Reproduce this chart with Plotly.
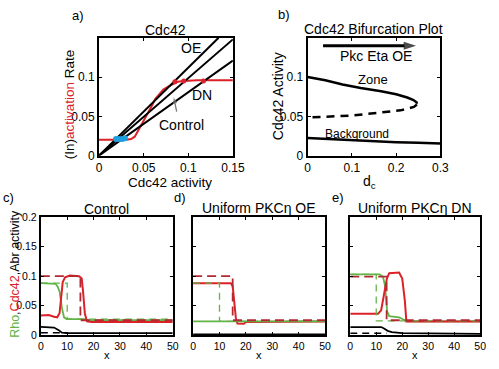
import plotly.graph_objects as go

W, H = 499, 369
RED = "#dc2128"
RED_D = "#b02a34"
GREEN = "#62b446"
BLUE = "#1e9fe0"
FONT = "Liberation Sans, Arial, sans-serif"

# ---------------- Panel a data ----------------
lin_x_oe = [0, 0.134]
lin_y_oe = [0, 0.15]
lin_x_ctrl = [0, 0.15]
lin_y_ctrl = [0, 0.148]
lin_x_dn = [0, 0.15]
lin_y_dn = [0, 0.121]
act_x = [0, 0.030, 0.036, 0.040, 0.043, 0.047, 0.050, 0.053, 0.056, 0.060, 0.063, 0.067, 0.072, 0.078, 0.083, 0.088, 0.095, 0.11, 0.15]
act_y = [0.020, 0.020, 0.021, 0.024, 0.030, 0.038, 0.045, 0.050, 0.056, 0.065, 0.072, 0.078, 0.084, 0.088, 0.091, 0.094, 0.095, 0.096, 0.096]
red_pts_x = [0.085, 0.095, 0.117]
red_pts_y = [0.094, 0.095, 0.095]
blue_pts_x = [0.019, 0.022, 0.026, 0.029]
blue_pts_y = [0.021, 0.021, 0.021, 0.022]
ctrl_arrow_x = [0.087, 0.0837]
ctrl_arrow_y = [0.056, 0.0746]

# ---------------- Panel b data ----------------
zone_x = [0, 0.04, 0.079, 0.12, 0.166, 0.20, 0.225, 0.238, 0.246, 0.247]
zone_y = [0.100, 0.096, 0.0905, 0.086, 0.082, 0.078, 0.074, 0.071, 0.068, 0.066]
unst_x = [0.247, 0.240, 0.21, 0.17, 0.137, 0.10, 0.064, 0.03, 0]
unst_y = [0.065, 0.062, 0.0576, 0.055, 0.0527, 0.051, 0.0500, 0.049, 0.0485]
bg_x = [0, 0.05, 0.1, 0.15, 0.2, 0.25, 0.3]
bg_y = [0.0225, 0.021, 0.0195, 0.0185, 0.017, 0.0162, 0.0155]
pkc_arrow_x = [0.035, 0.245]
pkc_arrow_y = [0.14, 0.14]

# ---------------- Panel c data (Control) ----------------
c_rho_x = [0, 4, 5.6, 6.4, 7.1, 8.0, 8.8, 9.8, 11, 16.5, 17.5, 50]
c_rho_y = [0.088, 0.088, 0.087, 0.082, 0.074, 0.046, 0.030, 0.027, 0.027, 0.027, 0.025, 0.025]
c_cdc_x = [0, 3, 5, 6.2, 7.1, 7.7, 8.3, 9.2, 11, 14.5, 15.5, 16.0, 16.7, 17.5, 19.3, 50]
c_cdc_y = [0.033, 0.034, 0.031, 0.030, 0.037, 0.063, 0.090, 0.098, 0.101, 0.100, 0.096, 0.074, 0.036, 0.023, 0.022, 0.022]
c_abr_x = [0, 5, 6.8, 8.0, 9.8, 50]
c_abr_y = [0.0137, 0.0126, 0.0082, 0.0040, 0.0030, 0.0030]
c_cdc0_x = [0, 15, 15, 50]
c_cdc0_y = [0.1, 0.1, 0.025, 0.025]
c_rho0_x = [0, 10, 10, 50]
c_rho0_y = [0.088, 0.088, 0.027, 0.027]
c_abr0_x = [0, 10]
c_abr0_y = [0.004, 0.004]

# ---------------- Panel d data (Uniform PKC OE) ----------------
d_rho_x = [0, 15, 16, 20, 50]
d_rho_y = [0.023, 0.023, 0.024, 0.024, 0.023]
d_cdc_x = [0, 14.3, 15.0, 15.6, 16.2, 16.8, 19.2, 20.1, 50]
d_cdc_y = [0.088, 0.088, 0.083, 0.056, 0.029, 0.0195, 0.019, 0.022, 0.023]
d_abr_x = [0, 50]
d_abr_y = [0.0012, 0.0012]
d_cdc0_x = [0, 15, 15, 50]
d_cdc0_y = [0.1, 0.1, 0.025, 0.025]
d_rho0_x = [0, 10, 10, 50]
d_rho0_y = [0.088, 0.088, 0.023, 0.023]

# ---------------- Panel e data (Uniform PKC DN) ----------------
e_rho_x = [0, 11.3, 12.6, 13.4, 14.2, 15.0, 18.8, 20.6, 21.9, 50]
e_rho_y = [0.103, 0.103, 0.099, 0.083, 0.040, 0.032, 0.030, 0.026, 0.023, 0.023]
e_cdc_x = [0, 10.7, 11.9, 13.2, 14.1, 15.0, 18.8, 20.0, 21.0, 21.6, 50]
e_cdc_y = [0.036, 0.036, 0.042, 0.075, 0.096, 0.105, 0.106, 0.096, 0.0585, 0.023, 0.023]
e_abr_x = [0, 11.9, 13.0, 14.4, 16, 20, 50]
e_abr_y = [0.0135, 0.0135, 0.011, 0.007, 0.005, 0.003, 0.002]
e_cdc0_x = [0, 14, 14, 50]
e_cdc0_y = [0.099, 0.099, 0.025, 0.025]
e_rho0_x = [0, 10, 10, 50]
e_rho0_y = [0.103, 0.103, 0.024, 0.024]
e_abr0_x = [0, 14]
e_abr0_y = [0.003, 0.003]

fig = go.Figure()

def line(x, y, ax, color, width=2, dash="solid"):
    fig.add_trace(go.Scatter(x=x, y=y, mode="lines", xaxis="x" + ax, yaxis="y" + ax,
                             line=dict(color=color, width=width, dash=dash),
                             showlegend=False, hoverinfo="skip"))

def arrow(x, y, ax, color, width, head):
    fig.add_trace(go.Scatter(x=x, y=y, mode="lines+markers", xaxis="x" + ax, yaxis="y" + ax,
                             line=dict(color=color, width=width),
                             marker=dict(symbol="arrow", size=[0, head], angleref="previous",
                                         color=color, line=dict(width=0)),
                             showlegend=False, hoverinfo="skip"))

# panel a
line(act_x, act_y, "", RED, 2)
line(lin_x_oe, lin_y_oe, "", "black", 2)
line(lin_x_ctrl, lin_y_ctrl, "", "black", 2)
line(lin_x_dn, lin_y_dn, "", "black", 2)
fig.add_trace(go.Scatter(x=red_pts_x, y=red_pts_y, mode="markers", xaxis="x", yaxis="y",
                         marker=dict(color=RED, size=5), showlegend=False, hoverinfo="skip"))
fig.add_trace(go.Scatter(x=blue_pts_x, y=blue_pts_y, mode="markers", xaxis="x", yaxis="y",
                         marker=dict(color=BLUE, size=6), showlegend=False, hoverinfo="skip"))
arrow(ctrl_arrow_x, ctrl_arrow_y, "", "#777777", 1.3, 7)

# panel b
line(zone_x, zone_y, "2", "black", 2.5)
line(unst_x, unst_y, "2", "black", 2.5, "8px,6px")
line(bg_x, bg_y, "2", "black", 2.5)
arrow(pkc_arrow_x, pkc_arrow_y, "2", "black", 3, 13)

# panel c
line(c_rho_x, c_rho_y, "3", GREEN, 1.8)
line(c_cdc_x, c_cdc_y, "3", RED, 2)
line(c_abr_x, c_abr_y, "3", "black", 1.8)
line(c_rho0_x, c_rho0_y, "3", GREEN, 1.3, "7px,5px")
line(c_cdc0_x, c_cdc0_y, "3", RED_D, 1.8, "9px,5px")
line(c_abr0_x, c_abr0_y, "3", "black", 1.5, "7px,5px")

# panel d
line(d_abr_x, d_abr_y, "4", "black", 1.8)
line(d_cdc_x, d_cdc_y, "4", RED, 2)
line(d_rho_x, d_rho_y, "4", GREEN, 1.8)
line(d_rho0_x, d_rho0_y, "4", GREEN, 1.3, "7px,5px")
line(d_cdc0_x, d_cdc0_y, "4", RED_D, 1.8, "9px,5px")

# panel e
line(e_rho_x, e_rho_y, "5", GREEN, 1.8)
line(e_cdc_x, e_cdc_y, "5", RED, 2)
line(e_abr_x, e_abr_y, "5", "black", 1.8)
line(e_rho0_x, e_rho0_y, "5", GREEN, 1.3, "7px,5px")
line(e_cdc0_x, e_cdc0_y, "5", RED_D, 1.8, "9px,5px")
line(e_abr0_x, e_abr0_y, "5", "black", 1.5, "7px,5px")

def px_x(p):
    return p / W

def px_y(p):
    return 1 - p / H

def axis(dom, rng, tickvals, ticktext, size, labels=True, anchor=None):
    d = dict(domain=dom, range=rng, tickvals=tickvals, ticktext=ticktext,
             showline=True, linecolor="black", linewidth=2, mirror="ticks",
             ticks="inside", ticklen=3, tickwidth=1, tickcolor="black",
             showgrid=False, zeroline=False, showticklabels=labels,
             tickfont=dict(family=FONT, size=size, color="black"), fixedrange=True)
    if anchor:
        d["anchor"] = anchor
    return d

A = dict(x=[99, 237], y=[33, 155])
B = dict(x=[314, 451], y=[33, 155])
C = dict(x=[39, 175], y=[219, 341])
D = dict(x=[196, 332], y=[219, 341])
E = dict(x=[358, 492], y=[219, 341])

def dx(P):
    return [px_x(P["x"][0]), px_x(P["x"][1])]

def dy(P):
    return [px_y(P["y"][1]), px_y(P["y"][0])]

xt_c = [0, 10, 20, 30, 40, 50]
yt_c = [0, 0.05, 0.1, 0.15, 0.2]
yt_c_txt = ["0", "0.05", "0.1", "0.15", "0.2"]

fig.update_layout(
    width=W, height=H, margin=dict(l=0, r=0, t=0, b=0),
    paper_bgcolor="white", plot_bgcolor="white",
    font=dict(family=FONT, color="black"),
    xaxis=axis(dx(A), [0, 0.15], [0, 0.05, 0.1, 0.15], ["0", "0.05", "0.1", "0.15"], 12, anchor="y"),
    yaxis=axis(dy(A), [0, 0.15], [0, 0.05, 0.1], ["0", "0.05", "0.1"], 12, anchor="x"),
    xaxis2=axis(dx(B), [0, 0.3], [0, 0.1, 0.2, 0.3], ["0", "0.1", "0.2", "0.3"], 12, anchor="y2"),
    yaxis2=axis(dy(B), [0, 0.15], [0, 0.05, 0.1], ["0", "0.05", "0.1"], 12, anchor="x2"),
    xaxis3=axis(dx(C), [0, 50], xt_c, [str(v) for v in xt_c], 10.5, anchor="y3"),
    yaxis3=axis(dy(C), [0, 0.2], yt_c, yt_c_txt, 10.5, anchor="x3"),
    xaxis4=axis(dx(D), [0, 50], xt_c, [str(v) for v in xt_c], 10.5, anchor="y4"),
    yaxis4=axis(dy(D), [0, 0.2], yt_c, yt_c_txt, 10.5, labels=False, anchor="x4"),
    xaxis5=axis(dx(E), [0, 50], xt_c, [str(v) for v in xt_c], 10.5, anchor="y5"),
    yaxis5=axis(dy(E), [0, 0.2], yt_c, yt_c_txt, 10.5, labels=False, anchor="x5"),
)

def ptext(text, x, y, size=13, angle=0, xanchor="center"):
    fig.add_annotation(text=text, x=px_x(x), y=px_y(y), xref="paper", yref="paper",
                       showarrow=False, textangle=angle, xanchor=xanchor, yanchor="middle",
                       font=dict(family=FONT, size=size, color="black"))

def dtext(text, x, y, ax, size=13):
    fig.add_annotation(text=text, x=x, y=y, xref="x" + ax, yref="y" + ax,
                       showarrow=False, font=dict(family=FONT, size=size, color="black"))

# panel letters & titles
ptext("a)", 77, 10, 13)
ptext("b)", 290, 9, 13)
ptext("c)", 6, 198, 13)
ptext("d)", 183, 198, 13)
ptext("e)", 345, 198, 13)
ptext("Cdc42", 168, 25, 14)
ptext("Cdc42 Bifurcation Plot", 382, 24, 14)
ptext("Control", 107, 210, 14)
ptext("Uniform PKCη OE", 264, 209, 14)
ptext("Uniform PKCη DN", 425, 209, 14)

# axis titles
ptext("Cdc42 activity", 172, 183, 13.5)
ptext("d<sub>c</sub>", 378, 182, 14)
ptext("x", 107, 362, 11)
ptext("x", 264, 362, 11)
ptext("x", 425, 362, 11)
ptext("(In)<span style='color:%s'>activation</span> Rate" % RED, 68, 102, 13.5, -90)
ptext("Cdc42 Activity", 283, 93, 14, -90)
ptext("<span style='color:%s'>Rho</span>,<span style='color:%s'>Cdc42</span>,Abr activity" % (GREEN, RED),
      13, 278, 12.5, -90)

# panel a labels
dtext("OE", 0.103, 0.137, "", 14)
dtext("DN", 0.115, 0.077, "", 14)
dtext("Control", 0.092, 0.039, "", 14)

# panel b labels
dtext("Pkc Eta OE", 0.155, 0.127, "2", 14)
dtext("Zone", 0.148, 0.097, "2", 13)
dtext("Background", 0.112, 0.027, "2", 12)

fig.write_html("out.html", config={"displayModeBar": False},
               post_script="document.body.style.margin='0';document.body.style.padding='0';"
                           "document.body.style.overflow='hidden';")
